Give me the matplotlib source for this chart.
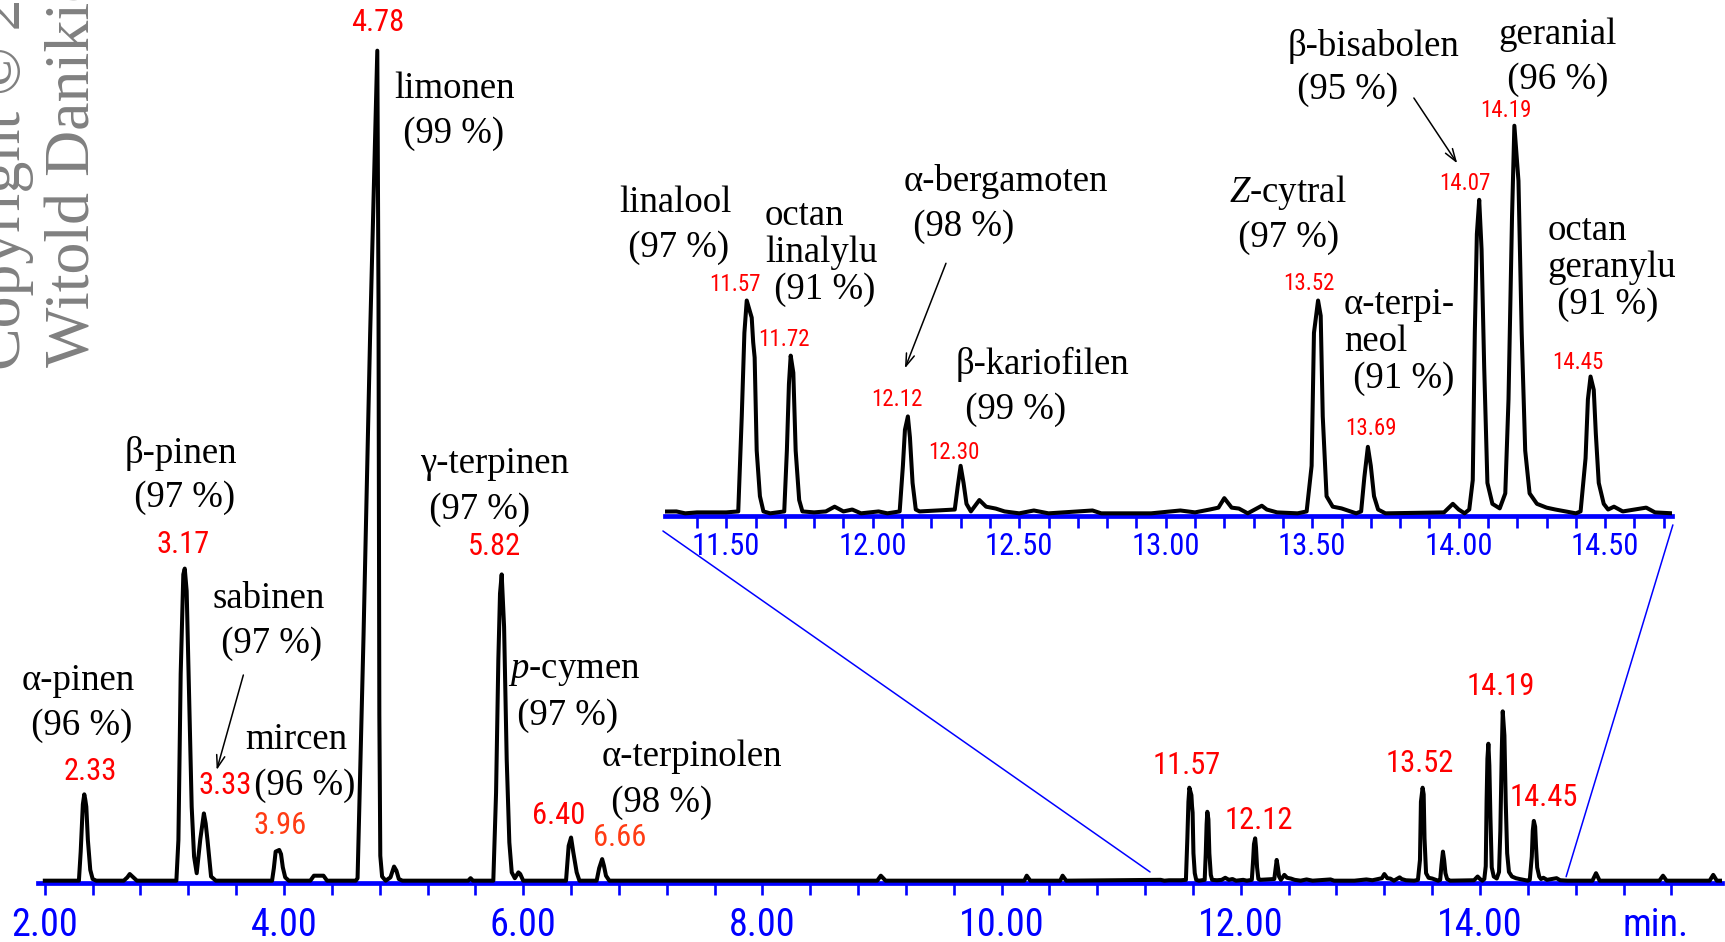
import numpy as np
import matplotlib
matplotlib.use("Agg")
import matplotlib.pyplot as plt
from matplotlib import font_manager
from matplotlib.patches import ConnectionPatch

_installed = {f.name for f in font_manager.fontManager.ttflist}
NARROW = next(n for n in ["Liberation Sans Narrow", "Arial Narrow", "Roboto Condensed",
                          "Archivo Narrow", "Liberation Sans"] if n in _installed)
SERIF = "Liberation Serif"

plt.rcParams["font.family"] = [NARROW, "DejaVu Sans"]
plt.rcParams["mathtext.fontset"] = "custom"
plt.rcParams["mathtext.rm"] = SERIF
plt.rcParams["mathtext.it"] = SERIF + ":italic"

BLUE = "#0000ff"
RED = "#ff0000"
ORANGE = "#ff3c14"

# GC trace: retention time [min], signal relative to limonene apex (=100)
trace = [
    (2.000, 0.0),
    (2.285, 0.0), (2.300, 3.5), (2.318, 9.2), (2.330, 10.4), (2.338, 9.8), (2.347, 8.9),
    (2.360, 4.9), (2.380, 1.3), (2.400, 0.2), (2.430, 0.0),
    (2.660, 0.0), (2.690, 0.4), (2.710, 0.8), (2.740, 0.4), (2.770, 0.0),
    (3.100, 0.0), (3.117, 4.9), (3.136, 24.9), (3.158, 36.9), (3.170, 37.6), (3.186, 34.9),
    (3.209, 20.9), (3.228, 8.9), (3.248, 2.9), (3.270, 0.9), (3.300, 5.0), (3.330, 8.1),
    (3.345, 6.9), (3.360, 4.9), (3.390, 0.5), (3.430, 0.0),
    (3.900, 0.0), (3.915, 1.5), (3.930, 3.5), (3.960, 3.7), (3.975, 3.2), (3.990, 1.6),
    (4.010, 0.4), (4.040, 0.0),
    (4.220, 0.0), (4.250, 0.6), (4.330, 0.6), (4.360, 0.0),
    (4.600, 0.0), (4.615, 0.3), (4.665, 29.6), (4.720, 65.8), (4.780, 100.0), (4.790, 70.0),
    (4.797, 20.0), (4.805, 3.0), (4.820, 0.5), (4.850, 0.0), (4.890, 0.4), (4.920, 1.7),
    (4.940, 1.2), (4.960, 0.2), (4.990, 0.0),
    (5.540, 0.0), (5.560, 0.3), (5.580, 0.0),
    (5.750, 0.0), (5.773, 10.6), (5.792, 26.6), (5.806, 34.6), (5.820, 36.9), (5.840, 30.6),
    (5.862, 14.6), (5.884, 4.6), (5.904, 1.0), (5.930, 0.3), (5.960, 1.0), (5.975, 0.8),
    (6.000, 0.0),
    (6.358, 0.0), (6.380, 4.2), (6.400, 5.2), (6.419, 3.4), (6.447, 1.0), (6.470, 0.0),
    (6.614, 0.0), (6.635, 1.5), (6.660, 2.6), (6.675, 1.8), (6.692, 0.6), (6.720, 0.0),
    (8.960, 0.0), (8.990, 0.6), (9.030, 0.0),
    (10.190, 0.0), (10.210, 0.6), (10.240, 0.0),
    (10.490, 0.0), (10.510, 0.6), (10.540, 0.0),
    (11.290, 0.1), (11.330, 0.1), (11.360, 0.0), (11.400, 0.05), (11.500, 0.05),
    (11.541, 0.1), (11.553, 5.1), (11.562, 9.5), (11.570, 11.2), (11.587, 10.3), (11.592, 9.0),
    (11.597, 8.2), (11.604, 3.3), (11.615, 0.9), (11.627, 0.1), (11.650, 0.0),
    (11.698, 0.1), (11.707, 3.3), (11.714, 6.8), (11.720, 8.3), (11.729, 7.4), (11.737, 3.3),
    (11.749, 0.7), (11.760, 0.1),
    (11.800, 0.05), (11.840, 0.1), (11.870, 0.35), (11.900, 0.1), (11.930, 0.2), (11.960, 0.0),
    (12.020, 0.1), (12.050, 0.0),
    (12.092, 0.1), (12.103, 2.5), (12.110, 4.4), (12.120, 5.1), (12.127, 4.0), (12.136, 1.6),
    (12.147, 0.2), (12.160, 0.1),
    (12.280, 0.2), (12.290, 1.4), (12.300, 2.5), (12.310, 1.6), (12.320, 0.5), (12.335, 0.1),
    (12.364, 0.7), (12.387, 0.35), (12.420, 0.25), (12.450, 0.1), (12.500, 0.0), (12.550, 0.15),
    (12.600, 0.0), (12.750, 0.15), (12.780, 0.0), (12.950, 0.0), (13.050, 0.15), (13.100, 0.05),
    (13.150, 0.2), (13.180, 0.3), (13.200, 0.8), (13.225, 0.3), (13.250, 0.25), (13.280, 0.0),
    (13.328, 0.4), (13.345, 0.2), (13.380, 0.05), (13.450, 0.0),
    (13.481, 0.1), (13.498, 2.5), (13.506, 9.5), (13.520, 11.2), (13.529, 10.4), (13.536, 5.1),
    (13.549, 0.9), (13.570, 0.35), (13.600, 0.26), (13.650, 0.0),
    (13.667, 0.1), (13.678, 1.9), (13.690, 3.5), (13.700, 2.5), (13.711, 0.9), (13.725, 0.2),
    (13.750, 0.0),
    (13.950, 0.05), (13.980, 0.5), (14.000, 0.2), (14.020, 0.0),
    (14.036, 0.2), (14.048, 1.75), (14.055, 9.5), (14.062, 14.7), (14.070, 16.5), (14.078, 13.9),
    (14.087, 7.7), (14.098, 1.6), (14.115, 0.5), (14.140, 0.26),
    (14.159, 1.05), (14.170, 6.0), (14.182, 15.6), (14.190, 20.4), (14.204, 17.5), (14.215, 9.5),
    (14.227, 3.3), (14.242, 1.05), (14.267, 0.5), (14.300, 0.3), (14.330, 0.2), (14.400, 0.0),
    (14.416, 0.1), (14.433, 2.9), (14.441, 6.0), (14.450, 7.2), (14.461, 6.5), (14.468, 4.2),
    (14.478, 1.6), (14.495, 0.5), (14.510, 0.2), (14.530, 0.35), (14.560, 0.1), (14.640, 0.3),
    (14.670, 0.05), (14.730, 0.0),
    (14.940, 0.0), (14.970, 0.9), (15.000, 0.0), (15.500, 0.0), (15.530, 0.6), (15.560, 0.0),
    (15.920, 0.0), (15.950, 0.7), (15.980, 0.0), (16.010, 0.0),
]
rt_min = np.array([p[0] for p in trace])
signal = np.array([p[1] for p in trace])

# retention times printed on the full chromatogram and in the zoom
main_rt = [2.33, 3.17, 3.33, 3.96, 4.78, 5.82, 6.40, 6.66, 11.57, 12.12, 13.52, 14.19, 14.45]
inset_rt = [11.57, 11.72, 12.12, 12.30, 13.52, 13.69, 14.07, 14.19, 14.45]

# identified compounds and library match
main_names = ["α-pinen", "β-pinen", "sabinen", "mircen", "limonen",
              "γ-terpinen", "$p$-cymen", "α-terpinolen"]
main_match = [96, 97, 97, 96, 99, 97, 97, 98]
inset_names = ["linalool", "octan\nlinalylu", "α-bergamoten", "β-kariofilen",
               "$Z$-cytral", "α-terpi-\nneol", "β-bisabolen", "geranial", "octan\ngeranylu"]
inset_match = [97, 91, 98, 99, 97, 91, 95, 96, 91]

main_xticks = [2, 4, 6, 8, 10, 12, 14]
inset_xticks = [11.5, 12.0, 12.5, 13.0, 13.5, 14.0, 14.5]

# ---- layout -------------------------------------------------------------
W, H = 1725, 942
fig = plt.figure(figsize=(W / 100, H / 100), dpi=100)

ax = fig.add_axes([38 / W, 59 / H, 1683.6 / W, 883 / H])
ax.set_xlim(1.943, 16.02)
ax.set_ylim(-0.28, -0.28 + 883 / 8.3)

axi = fig.add_axes([664.7 / W, 426.2 / H, 1007 / W, 415.8 / H])
axi.set_xlim(11.29, 14.727)
axi.set_ylim(-0.13, -0.13 + 415.8 / 19)

for a in (ax, axi):
    a.patch.set_visible(False)
    for s in ("left", "right", "top"):
        a.spines[s].set_visible(False)
    a.spines["bottom"].set_color(BLUE)
    a.spines["bottom"].set_linewidth(3.4)
    a.set_yticks([])
    a.plot(rt_min, signal, color="black", lw=2.9, zorder=3)

ax.set_xticks(main_xticks)
ax.set_xticklabels([f"{v:.2f}" for v in main_xticks])
ax.set_xticks(np.round(np.arange(2.0, 15.61, 0.4), 2), minor=True)
ax.tick_params(axis="x", which="both", direction="out", length=8.6, width=1.9,
               color=BLUE, labelcolor=BLUE, labelsize=27.5, pad=8.5)
ax.annotate("min.", xy=(15.47, 0), xycoords=("data", "axes fraction"),
            xytext=(0, -17.1), textcoords="offset points", ha="center", va="top",
            color=BLUE, fontsize=27.5)

axi.set_xticks(inset_xticks)
axi.set_xticklabels([f"{v:.2f}" for v in inset_xticks])
axi.set_xticks(np.round(np.arange(11.4, 14.71, 0.1), 2), minor=True)
axi.tick_params(axis="x", which="both", direction="out", length=8.6, width=1.9,
                color=BLUE, labelcolor=BLUE, labelsize=22, pad=3)

# retention-time labels above the peaks (offsets in pixels)
main_offsets = [(6, 23), (-2, 24), (21, 28), (1, 24), (0, 28), (-7, 28), (-12, 22), (18, 22),
                (-3, 22), (4, 18), (-3, 24), (-2, 25), (10, 23)]
for rt, (dx, dy) in zip(main_rt, main_offsets):
    col = ORANGE if rt in (3.96, 6.66) else RED
    ax.annotate(f"{rt:.2f}", xy=(rt, np.interp(rt, rt_min, signal)), xytext=(dx, dy),
                textcoords="offset pixels", ha="center", va="center", color=col, fontsize=22)

inset_offsets = [(-12, 16), (-7, 16), (-11, 17), (-7, 13), (-9, 17), (3, 18), (-14, 16),
                 (-8, 15), (-13, 14)]
for rt, (dx, dy) in zip(inset_rt, inset_offsets):
    axi.annotate(f"{rt:.2f}", xy=(rt, np.interp(rt, rt_min, signal)), xytext=(dx, dy),
                 textcoords="offset pixels", ha="center", va="center", color=RED, fontsize=16.5)

# compound names: (time, top of text, line spacing)
main_pos = [(1.809, 26.15, 1.38), (2.671, 53.6, 1.36), (3.398, 36.1, 1.41), (3.674, 19.0, 1.41),
            (4.920, 97.5, 1.39), (5.137, 52.3, 1.42), (5.873, 27.35, 1.37), (6.659, 17.0, 1.42)]
for name, m, (x, y, ls) in zip(main_names, main_match, main_pos):
    ax.text(x, y, f"{name}\n ({m} %)", ha="left", va="top", fontsize=26.5,
            family=SERIF, linespacing=ls, zorder=4)

inset_pos = [(11.134, 17.24, 1.39), (11.632, 16.56, 1.08), (12.107, 18.40, 1.39),
             (12.284, 8.77, 1.38), (13.216, 17.93, 1.32), (13.608, 11.87, 1.09),
             (13.417, 25.50, 1.32), (14.134, 26.08, 1.37), (14.304, 15.77, 1.09)]
for name, m, (x, y, ls) in zip(inset_names, inset_match, inset_pos):
    axi.text(x, y, f"{name}\n ({m} %)", ha="left", va="top", fontsize=26.5,
             family=SERIF, linespacing=ls, zorder=4)

arrow = dict(arrowstyle="->,head_length=0.9,head_width=0.3", lw=1.1, color="black",
             shrinkA=0, shrinkB=0)
ax.annotate("", xy=(3.437, 13.33), xytext=(3.66, 24.78), arrowprops=arrow)
axi.annotate("", xy=(12.110, 7.63), xytext=(12.250, 13.16), arrowprops=arrow)
axi.annotate("", xy=(13.995, 18.42), xytext=(13.847, 21.86), arrowprops=arrow)

# lines tying the zoomed window to its place on the full run
for (xa, ya), (xb, yb) in [((11.284, -0.93), (11.241, 1.05)), ((14.731, -0.61), (14.72, 0.48))]:
    fig.add_artist(ConnectionPatch(xyA=(xa, ya), coordsA=axi.transData,
                                   xyB=(xb, yb), coordsB=ax.transData,
                                   color=BLUE, lw=1.1))

# watermark
for txt, xpx, ypx in [("Copyright © 2013", 20, 370), ("Witold Danikiewicz", 89, 367)]:
    fig.text(xpx / W, 1 - ypx / H, txt, rotation=90, rotation_mode="anchor",
             ha="left", va="baseline", fontsize=46, family=SERIF, color="#808080")

fig.savefig("out.png", dpi=100)
